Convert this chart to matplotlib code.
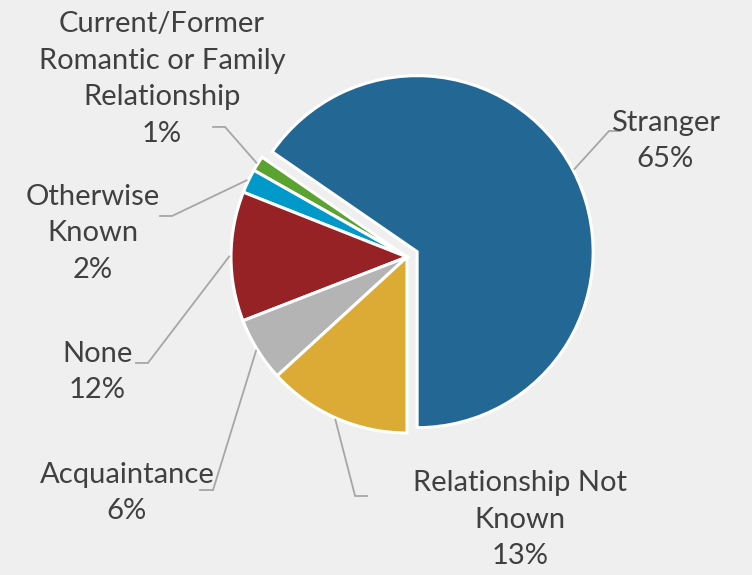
import numpy as np
import matplotlib
matplotlib.use('Agg')
import matplotlib.pyplot as plt

# data (order: counter-clockwise starting from the bottom)
categories = ['Stranger', 'Current/Former\nRomantic or Family\nRelationship', 'Otherwise\nKnown',
              'None', 'Acquaintance', 'Relationship Not\nKnown']
values = [65.4, 1.4, 2.2, 11.9, 5.9, 13.2]
colors = ['#236795', '#5ba330', '#0099c9', '#962225', '#b4b4b4', '#dbab35']
explode = [0.065, 0, 0, 0, 0, 0]

# label layout: elbow of leader line, end of leader line, text centre
elbows = [(1.148, 0.716), (-1.034, 0.739), (-1.335, 0.233), (-1.472, -0.602), (-1.102, -1.324), (-0.295, -1.358)]
ends = [(1.210, 0.716), (-1.102, 0.739), (-1.403, 0.233), (-1.540, -0.602), (-1.176, -1.324), (-0.227, -1.358)]
text_pos = [(1.466, 0.659), (-1.392, 1.011), (-1.784, 0.136), (-1.761, -0.653), (-1.591, -1.341), (0.642, -1.494)]

plt.rcParams['font.family'] = ['Lato', 'DejaVu Sans']

fig = plt.figure(figsize=(7.52, 5.75), dpi=100)
fig.patch.set_facecolor('#efefef')
ax = fig.add_axes([0, 0, 1, 1])
ax.set_facecolor('#efefef')

startangle = -90
wedges, _ = ax.pie(values, colors=colors, explode=explode, startangle=startangle,
                   counterclock=True, radius=1.0,
                   wedgeprops=dict(edgecolor='white', linewidth=2.2))

total = sum(values)
for i, w in enumerate(wedges):
    mid = np.deg2rad((w.theta1 + w.theta2) / 2)
    cx, cy = w.center
    ax_, ay_ = cx + 1.01 * np.cos(mid), cy + 1.01 * np.sin(mid)
    ex, ey = elbows[i]
    tx, ty = ends[i]
    ax.plot([ax_, ex, tx], [ay_, ey, ty], color='#a6a6a6', lw=1.3, solid_joinstyle='miter')
    pct = int(round(values[i] / total * 100))
    ax.text(text_pos[i][0], text_pos[i][1], '%s\n%d%%' % (categories[i], pct),
            ha='center', va='center', fontsize=21, color='#404040', linespacing=1.5)

ax.set_xlim(-407 / 176, (752 - 407) / 176)
ax.set_ylim(-(575 - 257) / 176, 257 / 176)
ax.set_aspect('equal')
ax.axis('off')

fig.savefig('out.png', dpi=100, facecolor=fig.get_facecolor())
